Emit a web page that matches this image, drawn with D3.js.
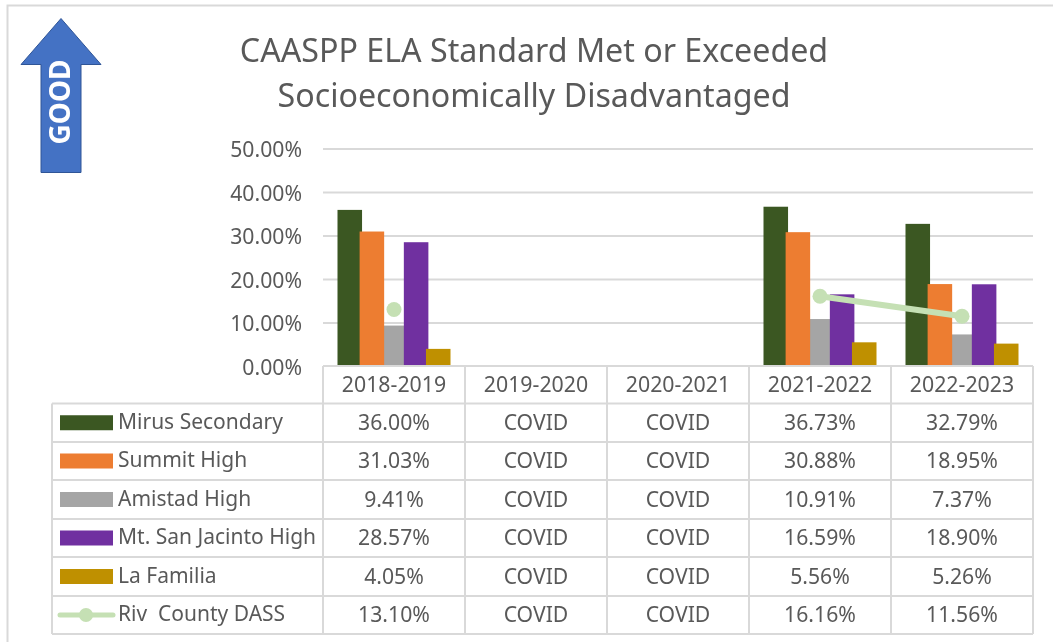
<!DOCTYPE html>
<html><head><meta charset="utf-8">
<script src="https://cdnjs.cloudflare.com/ajax/libs/d3/7.8.5/d3.min.js"></script>
<style>html,body{margin:0;padding:0;background:#fff}svg{display:block;filter:blur(0.45px)}text{white-space:pre}</style>
</head><body><div id="c"></div>
<script>
const years=["2018-2019","2019-2020","2020-2021","2021-2022","2022-2023"];
const seriesNames=["Mirus Secondary","Summit High","Amistad High","Mt. San Jacinto High","La Familia","Riv  County DASS"];
const colors=["#3b5722","#ed7d31","#a5a5a5","#7030a0","#bf9000","#c5e0b4"];
const mirus=[36.00,null,null,36.73,32.79];
const summit=[31.03,null,null,30.88,18.95];
const amistad=[9.41,null,null,10.91,7.37];
const sanJacinto=[28.57,null,null,16.59,18.90];
const laFamilia=[4.05,null,null,5.56,5.26];
const rivCounty=[13.10,null,null,16.16,11.56];
const yTicks=[0,10,20,30,40,50];
const gapLabel="COVID";
const titleLines=["CAASPP ELA Standard Met or Exceeded","Socioeconomically Disadvantaged"];
const barSeries=[mirus,summit,amistad,sanJacinto,laFamilia];
const allSeries=[...barSeries,rivCounty];
const drawOrder=[2,0,1,3,4];

const W=1053,H=642,font="'Noto Sans',sans-serif",grey="#595959",rule="#d9d9d9";
const svg=d3.select("#c").append("svg").attr("width",W).attr("height",H);
svg.append("path").attr("d",`M7.5 ${H}V5.5H${W}`).attr("fill","none").attr("stroke",rule).attr("stroke-width",2);

const x0=d3.scaleBand().domain(years).range([323,1033]);
const x1=d3.scaleBand().domain(d3.range(5)).range([14.5,x0.bandwidth()-14.5]).paddingInner(-0.11);
const y=d3.scaleLinear().domain([0,50]).range([366.5,149]);

// title
svg.append("g").selectAll("text").data(titleLines).join("text")
 .attr("x",534).attr("y",(d,i)=>62+i*45).attr("text-anchor","middle")
 .attr("font-family",font).attr("font-size",32.2).attr("fill",grey).text(d=>d);

// good arrow
const arrow=svg.append("g");
arrow.append("path").attr("d","M61 18.5L101 64.5H81V172.5H41V64.5H21Z").attr("fill","#4472c4").attr("stroke","#2f5597").attr("stroke-width",1);
arrow.append("text").attr("transform","translate(69.5,102) rotate(-90)").attr("text-anchor","middle")
 .attr("font-family","'Noto Sans',sans-serif").attr("font-weight",700).attr("font-size",28).attr("fill","#fff").text("GOOD");

// y axis
const yAxis=d3.axisLeft(y).tickValues(yTicks).tickSize(0).tickFormat(d=>d.toFixed(2)+"%");
const gy=svg.append("g").attr("transform","translate(323,0)").call(yAxis);
gy.select(".domain").remove();
gy.selectAll("text").attr("x",-21).attr("dy","0.36em").attr("font-family",font).attr("font-size",21.2).attr("fill",grey);
svg.append("g").selectAll("line").data(yTicks.slice(1)).join("line")
 .attr("x1",323).attr("x2",1033).attr("y1",d=>y(d)).attr("y2",d=>y(d)).attr("stroke",rule).attr("stroke-width",2);

// bars
drawOrder.forEach(si=>{
 svg.append("g").selectAll("rect").data(barSeries[si].map((v,i)=>({v,i})).filter(d=>d.v!==null)).join("rect")
  .attr("x",d=>x0(years[d.i])+x1(si)).attr("width",x1.bandwidth())
  .attr("y",d=>y(d.v)).attr("height",d=>y(0)-y(d.v)).attr("fill",colors[si]);
});

// line
const cx=i=>x0(years[i])+x0.bandwidth()/2;
const line=d3.line().defined(d=>d!==null).x((d,i)=>cx(i)).y(d=>y(d));
svg.append("path").attr("d",line(rivCounty)).attr("fill","none").attr("stroke",colors[5]).attr("stroke-width",6);
svg.append("g").selectAll("circle").data(rivCounty.map((v,i)=>({v,i})).filter(d=>d.v!==null)).join("circle")
 .attr("cx",d=>cx(d.i)).attr("cy",d=>y(d.v)).attr("r",7.5).attr("fill",colors[5]);

// table
const rowY=[366,403.5,442,480,519,557,596,634];
const t=svg.append("g");
const L=52,R=1033;
t.selectAll(".h").data(rowY).join("line").attr("x1",(d,i)=>i===0?323:L).attr("x2",R)
 .attr("y1",d=>d).attr("y2",d=>d).attr("stroke",rule).attr("stroke-width",2);
t.selectAll(".v").data([323,...years.map(d=>x0(d)+x0.bandwidth())]).join("line").attr("x1",d=>d).attr("x2",d=>d)
 .attr("y1",366).attr("y2",634).attr("stroke",rule).attr("stroke-width",2);
t.append("line").attr("x1",L).attr("x2",L).attr("y1",rowY[1]).attr("y2",634).attr("stroke",rule).attr("stroke-width",2);

const txt=(x,yy,s,anchor,size)=>t.append("text").attr("x",x).attr("y",yy).attr("dy","0.35em").attr("text-anchor",anchor)
 .attr("font-family",font).attr("font-size",size).attr("fill",grey).text(s);
years.forEach(yr=>txt(x0(yr)+x0.bandwidth()/2,384.5,yr,"middle",21.3));
seriesNames.forEach((n,r)=>{
 const cy=(rowY[r+1]+rowY[r+2])/2;
 txt(118,cy-1.2,n,"start",21);
 if(r<5){
  t.append("rect").attr("x",60).attr("y",cy-7.5).attr("width",53).attr("height",15).attr("fill",colors[r]);
 } else {
  t.append("line").attr("x1",60).attr("x2",113).attr("y1",cy).attr("y2",cy).attr("stroke",colors[5]).attr("stroke-width",5).attr("stroke-linecap","round");
  t.append("circle").attr("cx",86).attr("cy",cy).attr("r",7).attr("fill",colors[5]);
 }
 allSeries[r].forEach((v,i)=>txt(x0(years[i])+x0.bandwidth()/2,cy,v===null?gapLabel:v.toFixed(2)+"%","middle",21.2));
});
</script></body></html>
